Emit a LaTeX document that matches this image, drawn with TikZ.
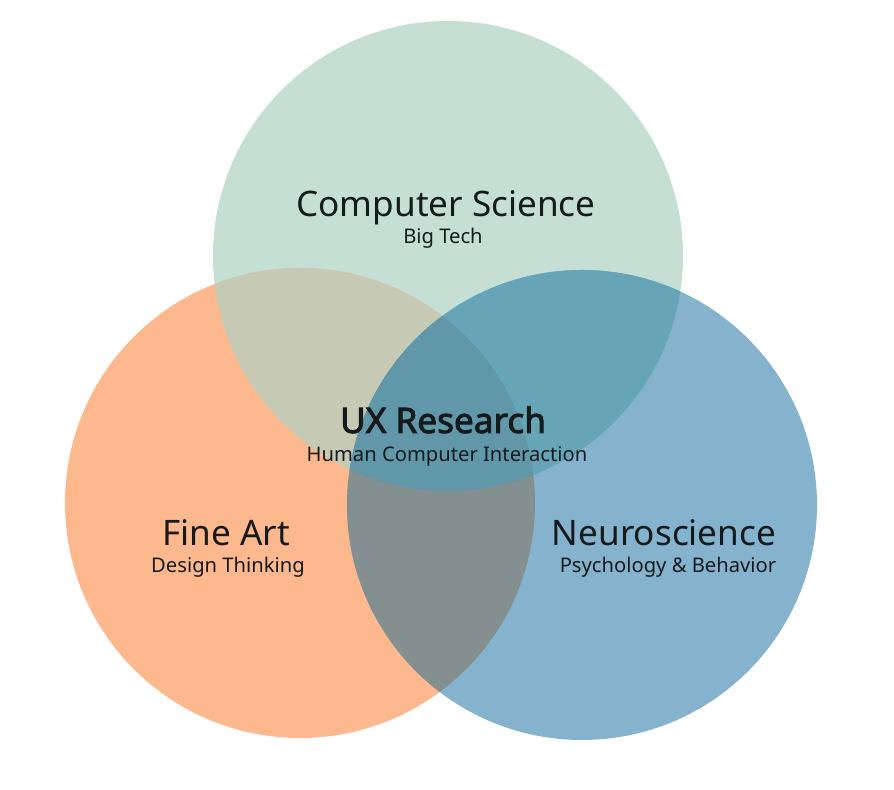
\documentclass[tikz,border=0pt]{standalone}
\usepackage{fontspec}
\setmainfont{Noto Sans}[BoldFont={Noto Sans}, BoldFeatures={FakeBold=2.5}]
\usetikzlibrary{positioning}
\definecolor{uxVerde}{HTML}{C6DFD5}
\definecolor{uxNaranja}{HTML}{FDB88E}
\definecolor{uxAzul}{HTML}{85B3CE}
\definecolor{uxVerdeNaranja}{HTML}{C6CAB5}
\definecolor{uxVerdeAzul}{HTML}{66A5B8}
\definecolor{uxNaranjaAzul}{HTML}{848F8F}
\definecolor{uxCentro}{HTML}{6097A9}
\definecolor{uxTexto}{HTML}{151A1C}

\begin{document}
\begin{tikzpicture}[x=0.02cm, y=0.02cm,
      titulo/.style={anchor=base, text=uxTexto, inner sep=0pt, font=\fontsize{20}{24}\selectfont},
      sub/.style={anchor=base, text=uxTexto, inner sep=0pt, font=\fontsize{11.5}{14}\selectfont}]
    \useasboundingbox[fill=white] (0,0) rectangle (894,790);
    % circulos
    \def\cs{(448,534) circle (235)}
    \def\fa{(300,287) circle (235)}
    \def\ns{(582,285) circle (235)}
    \fill[uxVerde] \cs;
    \fill[uxNaranja] \fa;
    \fill[uxAzul] \ns;
    % intersecciones
    \begin{scope} \clip \cs; \fill[uxVerdeNaranja] \fa; \end{scope}
    \begin{scope} \clip \cs; \fill[uxVerdeAzul] \ns; \end{scope}
    \begin{scope} \clip \fa; \fill[uxNaranjaAzul] \ns; \end{scope}
    \begin{scope} \clip \cs; \clip \fa; \fill[uxCentro] \ns; \end{scope}
    % textos
    \node[titulo] (cs) at (446,573) {Computer Science};
    \node[sub]    (bt) at (443,546) {Big Tech};
    \node[titulo, font=\fontsize{20}{24}\selectfont\bfseries] (ux) at (443,357) {UX Research};
    \node[sub]    (hci) at (447,328) {Human Computer Interaction};
    \node[titulo] (fa) at (226,244) {Fine Art};
    \node[sub]    (dt) at (228,217) {Design Thinking};
    \node[titulo] (ns) at (664,244) {Neuroscience};
    \node[sub]    (pb) at (668,217) {Psychology \& Behavior};
  \end{tikzpicture}
\end{document}
